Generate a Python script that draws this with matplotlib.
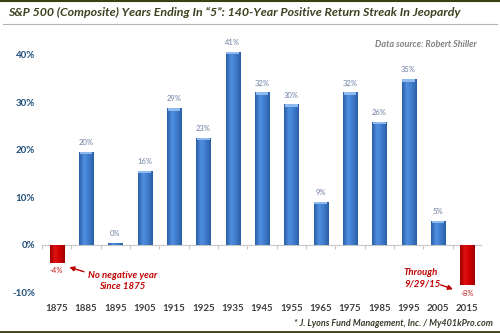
import numpy as np
import matplotlib
matplotlib.use("Agg")
import matplotlib.pyplot as plt
from matplotlib.colors import LinearSegmentedColormap

# data
years = ["1875", "1885", "1895", "1905", "1915", "1925", "1935", "1945",
         "1955", "1965", "1975", "1985", "1995", "2005", "2015"]
returns = [-3.7, 19.6, 0.4, 15.6, 28.8, 22.6, 40.7, 32.1,
           29.6, 9.1, 32.1, 25.9, 34.9, 5.1, -8.4]
yticks = [-10, 0, 10, 20, 30, 40]

plt.rcParams['font.family'] = ['Lato', 'DejaVu Sans']

fig = plt.figure(figsize=(5, 3.33), dpi=100)
ax = fig.add_axes([0.084, 0.1216, 0.88, 0.7705])

x = np.arange(len(years))
blue = LinearSegmentedColormap.from_list("b", ["#2a5ea6", "#4f8fe0", "#3f7ccc", "#2a5ea6"])
red = LinearSegmentedColormap.from_list("r", ["#9e0000", "#e01010", "#cc0000", "#9e0000"])
grad = np.linspace(0, 1, 64).reshape(1, -1)

bars = ax.bar(x, returns, width=0.48, color="#3a78c8", zorder=2)
for b, v in zip(bars, returns):
    x0, w = b.get_x(), b.get_width()
    y0, y1 = min(0, v), max(0, v)
    im = ax.imshow(grad, extent=[x0, x0 + w, y0, y1], aspect='auto',
                   cmap=red if v < 0 else blue, zorder=3)
    im.set_clip_path(b)
    # light cap on top of positive bars
    if v > 0.5:
        ax.bar(x0 + w / 2, 0.5, bottom=v - 0.5, width=w * 0.9,
               color="#8fbaf0", zorder=4)
    lab = "%d%%" % round(v)
    if v >= 0:
        ax.text(x0 + w / 2, v + 1.2, lab, ha='center', va='bottom',
                fontsize=5.5, color="#6d7fa3")
    else:
        ax.text(x0 + w / 2, v - 1.0, lab, ha='center', va='top',
                fontsize=5.5, color="#c02020")

ax.set_xlim(-0.5, len(years) - 0.5)
ax.set_ylim(-10, 44)
ax.axhline(0, color="#c8c8c8", lw=0.8, zorder=1)
ax.vlines(x + 0.5, -0.9, 0, color="#c8c8c8", lw=0.8, zorder=1)
ax.vlines([-0.5], -0.9, 0, color="#c8c8c8", lw=0.8, zorder=1)

ax.set_yticks(yticks)
ax.set_yticklabels(["%d%%" % t for t in yticks], fontsize=7,
                   fontweight='bold', color="#1f4e79")
ax.set_xticks(x)
ax.set_xticklabels(years, fontsize=7, fontweight='bold', color="#404040")
ax.tick_params(axis='x', length=0, pad=8)
ax.tick_params(axis='y', length=0, pad=5)
for s in ax.spines.values():
    s.set_visible(False)

# annotations
ax.annotate("", xy=(0.34, -4.5), xytext=(1.02, -5.8),
            arrowprops=dict(arrowstyle="-|>", color="#c00000", lw=1.0,
                            mutation_scale=7))
ax.text(2.25, -7.6, "No negative year\nSince 1875", ha='center', va='center',
        fontsize=6.9, fontweight='bold', style='italic', color="#c00000",
        linespacing=1.35)
ax.annotate("", xy=(13.6, -9.5), xytext=(13.0, -8.2),
            arrowprops=dict(arrowstyle="-|>", color="#c00000", lw=1.0,
                            mutation_scale=7))
ax.text(11.84, -6.95, "Through\n9/29/15", ha='left', va='center',
        fontsize=6.9, fontweight='bold', style='italic', color="#c00000",
        linespacing=1.35)
ax.text(0.987, 0.965, "Data source: Robert Shiller", transform=ax.transAxes,
        ha='right', va='center', fontsize=6.5, fontweight='bold',
        style='italic', color="#808080")

# title, frame lines and footer
fig.text(0.016, 0.962, "S&P 500 (Composite) Years Ending In \u201c5\u201d: 140-Year Positive Return Streak In Jeopardy",
         ha='left', va='center', fontsize=8.9, fontweight='bold',
         style='italic', color="#3a4220")
fig.add_artist(plt.Line2D([0, 1], [0.998, 0.998], color="#3b3f12", lw=1.5))
fig.add_artist(plt.Line2D([0.006, 0.994], [0.928, 0.928], color="#b4b4b4", lw=0.8))
fig.add_artist(plt.Line2D([0, 1], [0.004, 0.004], color="#3b3f12", lw=2))
fig.text(0.986, 0.03, "* J. Lyons Fund Management, Inc. / My401kPro.com",
         ha='right', va='center', fontsize=6.5, fontweight='bold',
         style='italic', color="#3a3a2a")

fig.savefig("out.png", dpi=100)
